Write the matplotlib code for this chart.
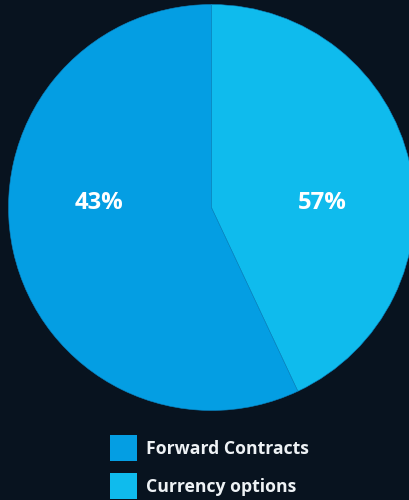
import matplotlib
matplotlib.use("Agg")
import matplotlib.pyplot as plt
from matplotlib.patches import Rectangle

# hedging instrument mix
instruments = ["Forward Contracts", "Currency options"]
shares = [57, 43]
label_text = ["43%", "57%"]
colors = ["#049ee3", "#0fbbed"]

BG = "#08131f"
W, H = 409, 500

fig = plt.figure(figsize=(W / 100, H / 100), dpi=100)
fig.patch.set_facecolor(BG)

# pie sits in a square axes: centre (211.5, 207.5) px, radius 203 px
cx, cy, r = 211.5, 207.5, 203
ax = fig.add_axes([(cx - r) / W, (H - cy - r) / H, 2 * r / W, 2 * r / H])
ax.set_facecolor(BG)
wedges, _ = ax.pie(shares, colors=colors, startangle=90, counterclock=True,
                   radius=1, wedgeprops=dict(edgecolor="#0a86c4", linewidth=0.4))
ax.set_xlim(-1, 1)
ax.set_ylim(-1, 1)
ax.set_aspect("auto")
ax.axis("off")

for x, txt in zip([-0.552, 0.545], label_text):
    ax.text(x, 0.022, txt, ha="center", va="center", color="white",
            fontsize=17.2, fontweight="bold", family="Open Sans")

# legend swatches drawn by hand in pixel space
for i, (name, c) in enumerate(zip(instruments, colors)):
    top = 435 + i * 38
    fig.add_artist(Rectangle((110 / W, 1 - (top + 26) / H), 26.5 / W, 26 / H,
                             transform=fig.transFigure, facecolor=c, edgecolor="none"))
    fig.text(146 / W, 1 - (top + 13.5) / H, name, ha="left", va="center",
             color="#eef2f5", fontsize=12.7, fontweight="bold", family="Open Sans")

fig.savefig("out.png", dpi=100, facecolor=BG)
